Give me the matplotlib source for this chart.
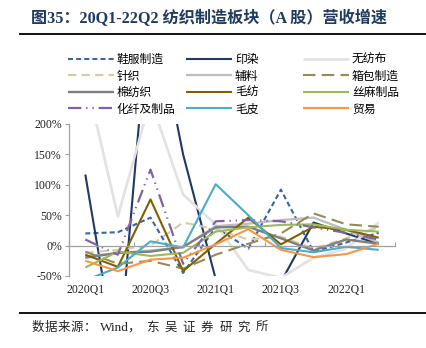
import matplotlib
matplotlib.use("Agg")
import matplotlib.pyplot as plt
from matplotlib.lines import Line2D
import matplotlib.transforms as mtransforms

quarters = ['2020Q1', '2020Q2', '2020Q3', '2020Q4', '2021Q1', '2021Q2',
            '2021Q3', '2021Q4', '2022Q1', '2022Q2']
tick_labels = ['2020Q1', '2020Q3', '2021Q1', '2021Q3', '2022Q1']

xiefu = [20, 22, 46, -45, 30, -5, 92, -10, 5, 21]
yinran = [117, -200, 420, 150, -55, -160, -60, 38, 20, 3]
wufangbu = [280, 48, 240, 84, 35, -40, -53, -20, -5, 38]
zhenzhi = [-12, -7, 0, 38, 27, 10, 15, -5, 12, 30]
fuliao = [-18, -12, -8, -3, 32, 36, 42, 46, 26, 5]
xiangbao = [-10, -30, -25, -38, -15, 3, 20, 53, 35, 31]
mianfang = [-20, -12, -10, -2, 30, 31, 12, -8, 10, 3]
maofang = [-15, -35, 76, -42, 3, 46, 2, 31, 26, 13]
sima = [-36, -10, -17, -12, 23, 30, 34, 35, 26, 23]
huaxian = [10, -15, 125, -30, 40, 42, 40, 30, 21, 10]
maopi = [-57, -36, 7, -3, 101, 50, -4, -11, -2, -7]
maoyi = [-25, -42, -23, -20, 2, 27, -7, -19, -14, 3]

names = ['鞋服制造', '印染', '无纺布', '针织', '辅料', '箱包制造',
         '棉纺织', '毛纺', '丝麻制品', '化纤及制品', '毛皮', '贸易']
series = [xiefu, yinran, wufangbu, zhenzhi, fuliao, xiangbao,
          mianfang, maofang, sima, huaxian, maopi, maoyi]
colors = ['#3C64A0', '#1F3864', '#E2E2E2', '#D5CCA6', '#BDBDBD', '#948A54',
          '#7F7F7F', '#7F6000', '#9BBB59', '#8064A2', '#4BACC6', '#F79646']
dashes = [(2.4, 1.5), None, None, (4, 2.5), None, (6, 3),
          None, None, None, (6, 2.2, 0.6, 2.2, 0.6, 2.2), None, None]
widths = [1.5, 1.5, 1.9, 1.5, 1.6, 1.5, 1.7, 1.5, 1.5, 1.6, 1.5, 1.5]

cjk = ['Noto Sans CJK SC', 'DejaVu Sans']
serif_cjk = ['Liberation Serif', 'Noto Sans CJK SC']

fig = plt.figure(figsize=(4.26, 3.48), dpi=100)
W, H = 426, 348
ax = fig.add_axes([69 / W, 1 - 276 / H, (395 - 69) / W, (276 - 124) / H])

x = list(range(len(quarters)))
handles = []
for name, vals, c, d, lw in zip(names, series, colors, dashes, widths):
    ln, = ax.plot(x, vals, color=c, lw=lw, label=name, solid_capstyle='butt',
                  dash_capstyle='butt')
    if d is not None:
        ln.set_dashes(d)
    handles.append(ln)

ax.set_xlim(-0.5, len(quarters) - 0.5)
ax.set_ylim(-50, 200)
ax.set_yticks([-50, 0, 50, 100, 150, 200])
ax.set_yticklabels([f'{v}%' for v in [-50, 0, 50, 100, 150, 200]],
                   fontfamily='Liberation Serif', fontsize=8.5, color='#222222')
ax.tick_params(axis='y', length=3, width=0.8, color='#A0A0A0', pad=2)

for s in ['top', 'right']:
    ax.spines[s].set_visible(False)
ax.spines['left'].set_color('#A0A0A0')
ax.spines['left'].set_linewidth(0.9)
ax.spines['bottom'].set_position(('data', 0))
ax.spines['bottom'].set_color('#A0A0A0')
ax.spines['bottom'].set_linewidth(0.9)
ax.set_xticks([-0.5 + 2 * k for k in range(6)])
ax.set_xticklabels([])
ax.tick_params(axis='x', direction='in', length=3, width=0.8, color='#A0A0A0')
ax.set_zorder(1)

trans = mtransforms.blended_transform_factory(ax.transData, ax.transAxes)
for i, lab in enumerate(quarters):
    if lab in tick_labels:
        ax.text(i, -0.055, lab, transform=trans, ha='center', va='top',
                fontfamily='Liberation Serif', fontsize=8.5, color='#222222')

# legend: three columns, row-major order
col_x = [68, 186, 303]
for ci in range(3):
    hs = [handles[r * 3 + ci] for r in range(4)]
    leg = fig.legend(handles=hs, labels=[h.get_label() for h in hs],
                     loc='upper left', bbox_to_anchor=(col_x[ci] / W, 1 - 53 / H),
                     frameon=False, ncol=1, prop={'family': cjk, 'size': 8.5},
                     handlelength=3.9, handletextpad=0.25, labelspacing=0.3,
                     borderpad=0, borderaxespad=0)

# title and rules
fig.text(31 / W, 1 - 19 / H, '图35：20Q1-22Q2 纺织制造板块（A 股）营收增速',
         fontfamily=serif_cjk, fontweight='bold', fontsize=11.6,
         color='#1F3A5F', ha='left', va='center')
fig.add_artist(Line2D([20 / W, 1], [1 - 34 / H, 1 - 34 / H], color='#111111', lw=1.4))
fig.add_artist(Line2D([20 / W, 1], [1 - 313 / H, 1 - 313 / H], color='#111111', lw=1.4))

# source line (spaced characters as in the reference)
src_y = 1 - 328 / H
src_a = '数据来源：'
for k, ch in enumerate(src_a):
    fig.text((32 + 13 * k) / W, src_y, ch, fontfamily=serif_cjk, fontsize=9,
             color='#222222', ha='left', va='center')
fig.text(100 / W, src_y, 'Wind，', fontfamily=serif_cjk, fontsize=9.5,
         color='#222222', ha='left', va='center')
src_b = '东吴证券研究所'
for k, ch in enumerate(src_b):
    fig.text((146 + 18.3 * k) / W, src_y, ch, fontfamily=serif_cjk, fontsize=9,
             color='#222222', ha='left', va='center')

fig.savefig('out.png', dpi=100)
